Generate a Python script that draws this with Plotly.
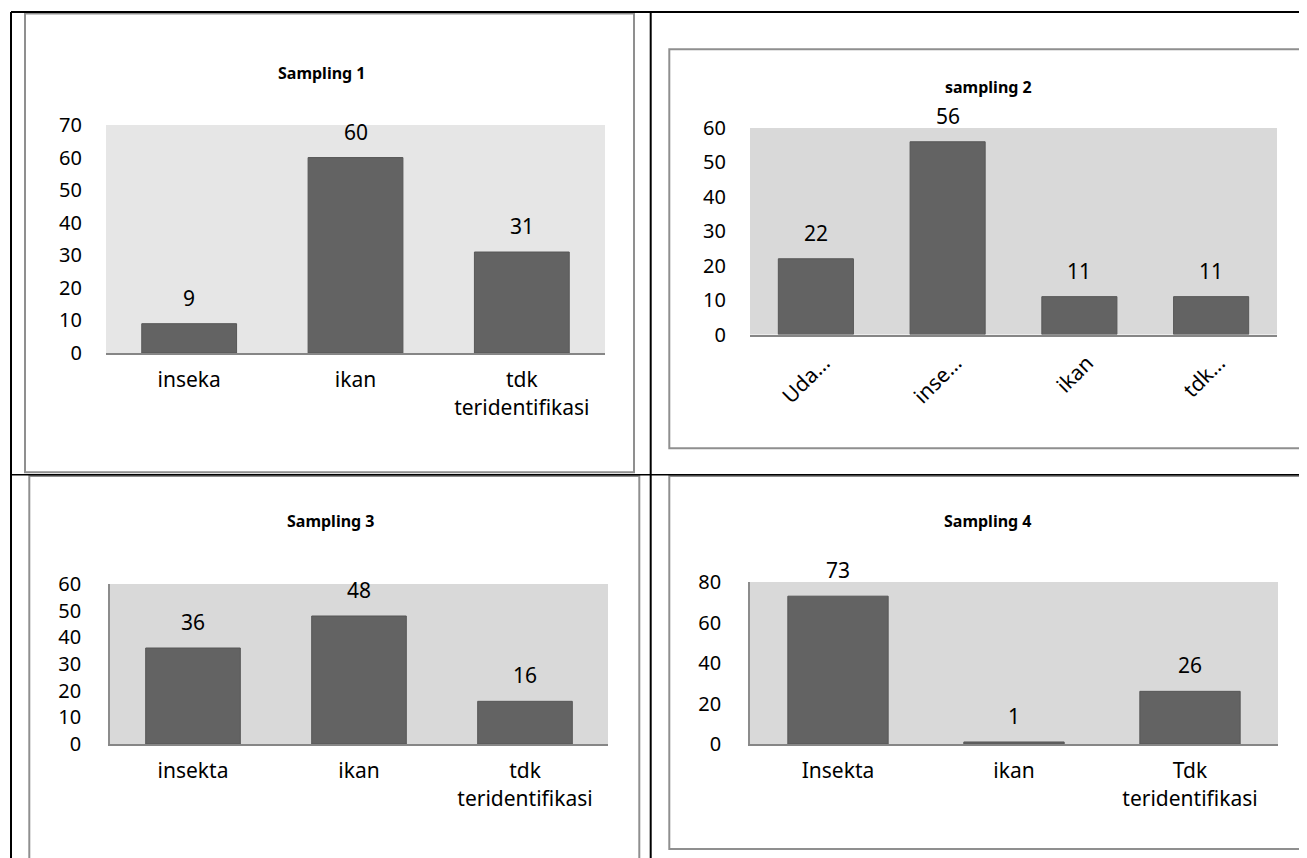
import plotly.graph_objects as go

W, H = 1307, 858
OFF = 8  # page body margin of the exported html

# ---------------- data ----------------
titles = ["Sampling 1", "sampling 2", "Sampling 3", "Sampling 4"]
cats1 = ["inseka", "ikan", "tdk<br>teridentifikasi"]
vals1 = [9, 60, 31]
cats2 = ["Uda…", "inse…", "ikan", "tdk…"]
vals2 = [22, 56, 11, 11]
cats3 = ["insekta", "ikan", "tdk<br>teridentifikasi"]
vals3 = [36, 48, 16]
cats4 = ["Insekta", "ikan", "Tdk<br>teridentifikasi"]
vals4 = [73, 1, 26]
yranges = [[0, 70], [0, 60], [0, 60], [0, 80]]
ydticks = [10, 10, 10, 20]

FONT = "Noto Sans"
TICK = 20
XTICK = 21
BAR = "#636363"

# ---------------- layout geometry (pixels) ----------------
panels = [
    dict(cats=cats1, vals=vals1, plot=(106, 605, 125, 353), bg="#e6e6e6", left=False,
         frame=(25, 634, 13.5, 472.3), title=(322, 73), angle=0),
    dict(cats=cats2, vals=vals2, plot=(750, 1277, 128, 334.5), bg="#d9d9d9", left=False,
         frame=(669.3, 1305, 49.3, 448.3), title=(988, 87), angle=-45),
    dict(cats=cats3, vals=vals3, plot=(110, 608, 584, 744), bg="#d9d9d9", left=True,
         frame=(29.3, 639.3, 476, 870), title=(331, 521), angle=0),
    dict(cats=cats4, vals=vals4, plot=(750, 1278, 582, 744), bg="#d9d9d9", left=True,
         frame=(669.3, 1305, 476, 849), title=(988, 521), angle=0),
]


def px(x):
    return (x - OFF) / W


def py(y):
    return 1 - (y - OFF) / H


fig = go.Figure()
shapes = []
annotations = []

for i, p in enumerate(panels):
    n = "" if i == 0 else str(i + 1)
    xa, ya = "x" + n, "y" + n
    x0, x1, y0, y1 = p["plot"]
    fig.add_trace(go.Bar(
        x=p["cats"], y=p["vals"], xaxis=xa, yaxis=ya,
        marker=dict(color=BAR, line=dict(color="#575757", width=1)),
        showlegend=False, hoverinfo="x+y",
    ))
    xkey = "xaxis" + n
    ykey = "yaxis" + n
    xa_d = dict(
        domain=[px(x0), px(x1)], anchor=ya, type="category", automargin=False,
        showline=True, linecolor="#868686", linewidth=2,
        showgrid=False, zeroline=False, ticks="",
        tickangle=p["angle"],
        tickfont=dict(family=FONT, size=XTICK, color="#000000"),
        fixedrange=True,
    )
    if p["angle"] == 0:
        xa_d["ticklabelstandoff"] = 7
    else:
        xa_d["ticklabelstandoff"] = 6
        xa_d["ticklabelshift"] = 8
    fig.layout[xkey] = xa_d
    fig.layout[ykey] = dict(
        domain=[py(y1), py(y0)], anchor=xa, range=yranges[i], dtick=ydticks[i],
        tick0=0, showgrid=False, zeroline=False, ticks="", automargin=False,
        showline=p["left"], linecolor="#8c8c8c", linewidth=1.5,
        ticklabelstandoff=23,
        tickfont=dict(family=FONT, size=TICK, color="#000000"),
        fixedrange=True,
    )
    # plot background
    shapes.append(dict(type="rect", xref=xa + " domain", yref=ya + " domain",
                       x0=0, x1=1, y0=0, y1=1, fillcolor=p["bg"],
                       line=dict(width=0), layer="below"))
    # chart frame
    fx0, fx1, fy0, fy1 = p["frame"]
    shapes.append(dict(type="rect", xref="paper", yref="paper",
                       x0=px(fx0), x1=px(fx1), y0=py(fy1), y1=py(fy0),
                       line=dict(color="#8f8f8f", width=2), layer="below"))
    # title
    tx, ty = p["title"]
    annotations.append(dict(xref="paper", yref="paper", x=px(tx), y=py(ty),
                            text="<b>%s</b>" % titles[i], showarrow=False,
                            xanchor="center", yanchor="middle",
                            font=dict(family=FONT, size=16, color="#000000")))
    # data labels
    for c, v in zip(p["cats"], p["vals"]):
        annotations.append(dict(xref=xa, yref=ya, x=c, y=v, text=str(v),
                                showarrow=False, xanchor="center", yanchor="bottom",
                                yshift=10,
                                font=dict(family=FONT, size=XTICK, color="#000000")))

# table lines (black)
blk = dict(color="#000000", width=2)
shapes += [
    dict(type="line", xref="paper", yref="paper", x0=px(11), x1=px(1320), y0=py(12), y1=py(12), line=blk),
    dict(type="line", xref="paper", yref="paper", x0=px(11), x1=px(11), y0=py(12), y1=py(880), line=blk),
    dict(type="line", xref="paper", yref="paper", x0=px(650.7), x1=px(650.7), y0=py(12), y1=py(880), line=blk),
    dict(type="line", xref="paper", yref="paper", x0=px(11), x1=px(1320), y0=py(474.7), y1=py(474.7),
         line=dict(color="#000000", width=1.5)),
]

fig.update_layout(
    width=W, height=H, margin=dict(l=0, r=0, t=0, b=0, autoexpand=False),
    paper_bgcolor="#ffffff", plot_bgcolor="rgba(0,0,0,0)",
    bargap=0.43, shapes=shapes, annotations=annotations,
    font=dict(family=FONT, color="#000000"),
)

fig.write_html("out.html", config={"displayModeBar": False})
